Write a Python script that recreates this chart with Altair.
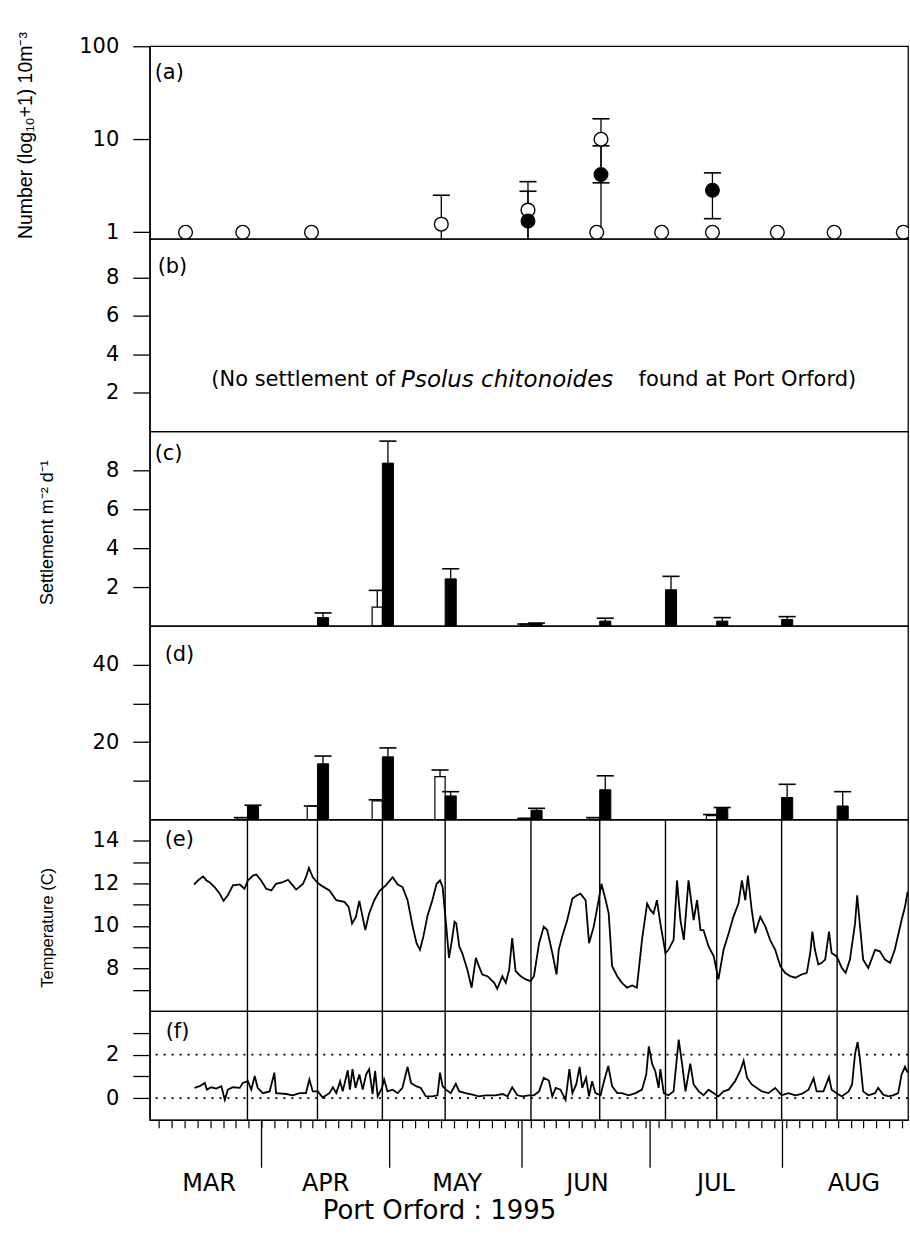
import altair as alt
import pandas as pd

# ---------------- data (day of year, 1995) ----------------
sample_day = [87.7, 104.1, 119.3, 134.0, 154.1, 170.2, 185.6, 197.6, 212.8, 225.8]
month_start_day = [91, 121, 152, 182, 213]
month_label_day = [78.6, 105.9, 136.7, 167.2, 197.3, 229.6]
month_names = ["MAR", "APR", "MAY", "JUN", "JUL", "AUG"]
minor_tick_day = list(range(67, 243, 3))

# (a) larval abundance
a_open_day = [73.2, 86.6, 102.7, 133.1, 153.4, 169.5, 170.5, 184.7, 196.6, 211.8, 225.1, 241.3]
a_open_val = [1.0, 1.0, 1.0, 1.22, 1.73, 1.0, 10.0, 1.0, 1.0, 1.0, 1.0, 1.0]
a_fill_day = [153.4, 170.5, 196.6]
a_fill_val = [1.32, 4.17, 2.83]
a_err_day = [133.1, 153.4, 170.5, 153.4, 170.5, 196.6]
a_err_lo = [0.85, 0.85, 3.4, 0.85, 0.85, 1.4]
a_err_hi = [2.5, 3.5, 16.6, 2.76, 8.5, 4.35]

# (b) note
b_note = ["(No settlement of", "Psolus chitonoides", "found at Port Orford)"]

# (c) settlement
c_day = [104.1, 119.3, 134.0, 154.1, 170.2, 185.6, 197.6, 212.8]
c_filled = [0.43, 8.37, 2.42, 0.12, 0.25, 1.86, 0.25, 0.33]
c_filled_err = [0.24, 1.13, 0.52, 0.03, 0.15, 0.69, 0.18, 0.15]
c_open = [0.0, 0.97, 0.0, 0.1, 0.0, 0.0, 0.0, 0.0]
c_open_err = [0.0, 0.86, 0.0, 0.0, 0.0, 0.0, 0.0, 0.0]

# (d) settlement
d_day = [87.7, 104.1, 119.3, 134.0, 154.1, 170.2, 197.6, 212.8, 225.8]
d_filled = [3.5, 14.4, 16.2, 6.1, 2.4, 7.7, 2.9, 5.7, 3.5]
d_filled_err = [0.2, 2.0, 2.3, 1.1, 0.5, 3.6, 0.2, 3.4, 3.7]
d_open = [0.5, 3.5, 4.8, 11.1, 0.3, 0.5, 1.0, 0.0, 0.0]
d_open_err = [0.0, 0.0, 0.3, 1.7, 0.0, 0.0, 0.3, 0.0, 0.0]

# (e) temperature
e_day = [75.2, 76.1, 77.3, 78.1, 78.8, 80.0, 81.2, 82.1, 83.1, 84.3, 85.9, 87.0, 87.8, 89.0,
         89.8, 90.9, 92.1, 93.3, 94.4, 96.0, 97.2, 98.3, 99.1, 100.7, 101.4, 102.1, 103.0,
         104.2, 105.3, 106.9, 108.5, 110.4, 111.4, 112.2, 113.1, 113.9, 114.5, 115.3, 116.2,
         117.4, 118.6, 120.1, 121.7, 122.9, 124.0, 125.2, 126.4, 127.3, 128.1, 128.9, 129.9,
         131.0, 132.0, 132.8, 133.4, 134.2, 134.9, 135.6, 136.2, 136.6, 137.3, 138.0, 139.2,
         140.2, 141.2, 141.9, 142.7, 143.9,
         145.5, 146.2, 147.4, 148.2, 149.0, 149.7, 150.5, 151.7, 152.9, 154.0, 154.8, 156.0,
         157.1, 157.9, 159.1, 160.1, 160.6, 161.4, 162.6, 163.8, 164.9, 165.7, 166.9, 167.7,
         168.8, 169.8, 170.6, 171.6, 172.3, 173.1, 174.3, 175.4, 176.6, 177.8, 178.9, 180.1,
         181.3, 182.1, 182.8, 183.6, 184.4, 185.6, 186.3, 187.5, 188.3, 189.1, 189.9, 191.0,
         192.2, 193.0, 193.8, 194.5, 195.7, 196.9, 198.0, 199.2, 200.4, 201.5, 202.7, 203.5,
         204.3, 204.9, 205.8, 206.6, 207.8, 209.0, 210.1, 211.3, 212.5, 213.6, 214.8, 216.0,
         217.5, 218.7, 219.5, 220.0, 220.6, 221.4, 222.2, 223.0, 223.9, 224.5, 225.7, 226.9,
         227.8, 228.8, 230.0, 230.5, 231.1, 231.9, 233.1, 234.7, 235.8, 237.0, 238.2, 239.3,
         240.9, 241.7, 242.3]
e_temp = [11.94, 12.14, 12.33, 12.14, 12.06, 11.83, 11.52, 11.18, 11.44, 11.91, 11.95, 11.75,
          12.14, 12.37, 12.42, 12.14, 11.75, 11.67, 11.98, 12.06, 12.17, 11.91, 11.71, 11.98,
          12.29, 12.73, 12.29, 12.02, 11.86, 11.67, 11.21, 11.13, 10.90, 10.12, 10.43, 11.18,
          10.59, 9.81, 10.59, 11.21, 11.64, 11.91, 12.29, 11.95, 11.83, 11.21, 9.97, 9.19,
          8.88, 9.50, 10.51, 11.21, 11.98, 12.14, 11.83, 10.12, 8.50, 9.35, 10.20, 10.12,
          9.04, 8.73, 7.95, 7.10, 8.50, 8.11, 7.72, 7.64,
          7.33, 7.05, 7.64, 7.33, 7.95, 9.43, 7.88, 7.64, 7.49, 7.41, 7.64, 9.19, 9.97, 9.81,
          8.73, 7.72, 8.88, 9.50, 10.28, 11.29, 11.44, 11.52, 11.21, 9.19, 9.97, 11.05, 11.98,
          11.21, 10.59, 8.11, 7.64, 7.33, 7.10, 7.21, 7.10, 9.35, 11.05, 10.74, 10.59, 11.21,
          10.12, 8.73, 8.88, 9.35, 12.14, 10.28, 9.35, 12.14, 10.28, 11.21, 9.81, 9.81, 9.04,
          8.57, 7.49, 8.88, 9.66, 10.43, 11.05, 12.14, 11.21, 12.37, 10.74, 9.66, 10.43, 9.97,
          9.35, 8.88, 8.11, 7.80, 7.64, 7.57, 7.72, 7.80, 8.73, 9.74, 8.88, 8.19, 8.27, 8.42,
          9.74, 8.73, 8.57, 8.03, 7.80, 8.42, 10.12, 11.44, 10.12, 8.42, 8.03, 8.88, 8.81,
          8.42, 8.27, 8.88, 10.28, 10.90, 11.60]

# (f) temperature difference
f_day = [75.3, 76.5, 77.7, 78.2, 79.2, 80.4, 81.6, 82.4, 83.1, 84.3, 85.9, 86.6, 87.8, 88.6,
         89.4, 90.1, 91.3, 92.9, 94.0, 94.4, 96.8, 98.3, 99.9, 101.4, 102.2, 103.0, 104.2,
         105.3, 106.9, 107.7, 108.5, 109.4, 110.0, 111.2, 111.7, 112.3, 113.0, 113.9, 114.7,
         115.5, 116.2, 117.0, 117.6, 118.2, 119.2, 119.7, 120.5, 121.7, 122.9, 124.0, 125.2,
         126.0, 127.2, 128.3, 129.5, 131.0, 132.2, 132.8, 133.4, 134.2, 135.3, 136.5, 137.3,
         138.8, 140.4, 141.9, 143.5,
         145.8, 147.4, 148.6, 149.7, 150.9, 152.1, 153.6, 154.8, 156.0, 157.1, 158.3, 159.1,
         159.9, 161.0, 162.2, 163.1, 163.8, 164.7, 165.5, 166.1, 167.0, 167.7, 168.4, 169.2,
         170.4, 171.2, 172.2, 173.1, 174.3, 175.4, 177.0, 178.6, 180.1, 181.1, 181.7, 182.5,
         183.2, 184.0, 184.4, 185.2, 186.3, 187.5, 188.7, 189.5, 190.3, 191.4, 192.2, 193.4,
         194.5, 195.7, 196.9, 198.0, 199.2, 200.4, 201.9, 203.1, 203.9, 204.7, 205.8, 207.0,
         208.2, 209.7, 211.3, 212.8, 214.4, 216.0, 217.5, 219.1, 220.3, 221.0, 222.6, 223.9,
         224.5, 225.7, 226.9, 228.5, 229.3, 230.0, 230.6, 231.1, 231.9, 233.1, 234.7, 235.4,
         236.6, 237.8, 238.9, 240.1, 240.9, 241.7, 242.3]
f_diff = [0.47, 0.55, 0.70, 0.39, 0.50, 0.44, 0.55, -0.08, 0.39, 0.50, 0.47, 0.70, 0.78, 0.39,
          1.02, 0.47, 0.23, 0.31, 1.17, 0.23, 0.19, 0.13, 0.23, 0.23, 0.86, 0.31, 0.31, 0.03,
          0.23, 0.50, 0.23, 0.78, 0.31, 1.28, 0.39, 1.33, 0.47, 1.09, 0.39, 1.09, 1.33, 0.19,
          1.25, 0.08, 0.47, 0.86, 0.31, 0.39, 0.23, 0.47, 1.44, 0.70, 0.55, 0.47, 0.08, 0.08,
          0.13, 1.17, 0.55, 0.39, 0.23, 0.66, 0.31, 0.23, 0.16, 0.08, 0.13,
          0.13, 0.19, 0.08, 0.50, 0.13, 0.08, 0.13, 0.13, 0.31, 0.94, 0.81, 0.08, 0.47, 0.39,
          -0.08, 1.33, 0.23, 0.63, 1.44, 0.47, 0.94, 0.08, 0.78, 0.23, 0.13, 0.78, 1.48, 0.55,
          0.23, 0.23, 0.13, 0.23, 0.39, 1.09, 2.38, 1.56, 1.25, 0.47, 1.33, 0.23, 0.13, 0.31,
          2.69, 1.56, 0.31, 1.59, 0.63, 0.31, 0.13, 0.39, 0.23, 0.08, 0.31, 0.39, 0.78, 1.25,
          1.72, 0.94, 0.63, 0.47, 0.31, 0.23, 0.47, 0.13, 0.23, 0.13, 0.19, 0.39, 0.91, 0.31,
          0.31, 0.97, 0.39, 0.23, 0.08, 0.31, 0.63, 2.03, 2.58, 1.88, 0.31, 0.13, 0.23, 0.47,
          0.16, 0.08, 0.13, 0.23, 1.09, 1.44, 1.17]
f_ref = [0, 2]

# ---------------- styling helpers ----------------
FONT = "DejaVu Sans"
TFONT = "Liberation Sans"
W = 760
XS = dict(domain=[64.8, 242.4], nice=False, zero=False)


def X(field, axis=None):
    return alt.X(field, type="quantitative", scale=alt.Scale(**XS), axis=axis)


def yaxis(values, title=None, title_x=0, title_y=0, title_size=16, label_expr=None, fmt=None):
    kw = dict(values=values, tickSize=17, tickWidth=1.3, tickColor="black",
              domainColor="black", domainWidth=1.3, labelFont=FONT, labelFontSize=21,
              labelColor="black", labelPadding=14, labelOverlap=False, grid=False)
    if label_expr is not None:
        kw["labelExpr"] = label_expr
    if fmt is not None:
        kw["format"] = fmt
    if title is not None:
        kw.update(title=title, titleFont=TFONT, titleFontSize=title_size,
                  titleFontWeight="normal", titleColor="black", titleX=title_x,
                  titleY=title_y, titleAngle=270, titleAlign="center",
                  titleBaseline="middle")
    else:
        kw["title"] = None
    return alt.Axis(**kw)


def make_y(scale, axis):
    def f(field):
        return alt.Y(field, type="quantitative", scale=scale, axis=axis)
    return f


def plabel(txt, x, y):
    return alt.Chart(pd.DataFrame({"t": [txt]})).mark_text(
        align="left", baseline="middle", font=FONT, fontSize=21, color="black"
    ).encode(x=alt.value(x), y=alt.value(y), text="t:N")


def bar_layers(df, Y):
    base = alt.Chart(df)
    open_bar = base.transform_filter("datum.open > 0").transform_calculate(
        bx1="datum.day - 2.4", bx2="datum.day", zero="0"
    ).mark_bar(fill="white", stroke="black", strokeWidth=1.2).encode(
        x=X("bx1"), x2=alt.X2("bx2"), y=Y("open"), y2=alt.Y2("zero:Q"))
    fill_bar = base.transform_filter("datum.filled > 0").transform_calculate(
        bx1="datum.day", bx2="datum.day + 2.6", zero="0"
    ).mark_bar(fill="black", stroke="black", strokeWidth=1).encode(
        x=X("bx1"), x2=alt.X2("bx2"), y=Y("filled"), y2=alt.Y2("zero:Q"))
    open_wh = base.transform_filter("datum.open > 0 && datum.open_err > 0").transform_calculate(
        cx="datum.day - 1.2", top="datum.open + datum.open_err"
    ).mark_rule(color="black", strokeWidth=1.3).encode(
        x=X("cx"), y=Y("open"), y2=alt.Y2("top:Q"))
    fill_wh = base.transform_filter("datum.filled > 0 && datum.filled_err > 0").transform_calculate(
        cx="datum.day + 1.3", top="datum.filled + datum.filled_err"
    ).mark_rule(color="black", strokeWidth=1.3).encode(
        x=X("cx"), y=Y("filled"), y2=alt.Y2("top:Q"))
    open_cap = base.transform_filter("datum.open > 0").transform_calculate(
        c1="datum.day - 3.2", c2="datum.day + 0.8", top="datum.open + datum.open_err"
    ).mark_rule(color="black", strokeWidth=1.6).encode(
        x=X("c1"), x2=alt.X2("c2"), y=Y("top:Q"))
    fill_cap = base.transform_filter("datum.filled > 0").transform_calculate(
        c1="datum.day - 0.7", c2="datum.day + 3.3", top="datum.filled + datum.filled_err"
    ).mark_rule(color="black", strokeWidth=1.6).encode(
        x=X("c1"), x2=alt.X2("c2"), y=Y("top:Q"))
    return [open_bar, fill_bar, open_wh, fill_wh, open_cap, fill_cap]


# ---------------- panel (a) ----------------
YA = make_y(alt.Scale(type="log", domain=[0.85, 100], nice=False),
            yaxis([1, 10, 100], title="Number (log\u2081\u2080+1) 10m\u207b\u00b3",
                  title_x=-124, title_y=89, title_size=19.5, fmt="d"))
a_open = pd.DataFrame({"day": a_open_day, "val": a_open_val})
a_fill = pd.DataFrame({"day": a_fill_day, "val": a_fill_val})
a_err = pd.DataFrame({"day": a_err_day, "lo": a_err_lo, "hi": a_err_hi})

a_wh = alt.Chart(a_err).mark_rule(color="black", strokeWidth=1.3).encode(
    x=X("day"), y=YA("lo"), y2=alt.Y2("hi"))
a_caphi = alt.Chart(a_err).transform_calculate(
    c1="datum.day - 2", c2="datum.day + 2").mark_rule(color="black", strokeWidth=1.6).encode(
    x=X("c1:Q"), x2=alt.X2("c2:Q"), y=YA("hi"))
a_caplo = alt.Chart(a_err).transform_filter("datum.lo > 0.9").transform_calculate(
    c1="datum.day - 2", c2="datum.day + 2").mark_rule(color="black", strokeWidth=1.6).encode(
    x=X("c1:Q"), x2=alt.X2("c2:Q"), y=YA("lo"))
a_pts_open = alt.Chart(a_open).mark_circle(size=190, fill="white", stroke="black",
                                           strokeWidth=1.4, opacity=1, clip=True).encode(
    x=X("day"), y=YA("val"))
a_pts_fill = alt.Chart(a_fill).mark_circle(size=190, fill="black", stroke="black",
                                           strokeWidth=1.2, opacity=1, clip=True).encode(
    x=X("day"), y=YA("val"))
panel_a = alt.layer(a_wh, a_caphi, a_caplo, a_pts_open, a_pts_fill,
                    plabel("(a)", 5, 27)).properties(width=W, height=193)

# ---------------- panel (b) ----------------
YB = make_y(alt.Scale(domain=[0, 10], nice=False), yaxis([2, 4, 6, 8]))
b_anchor = alt.Chart(pd.DataFrame({"v": [0]})).mark_point(opacity=0).encode(y=YB("v"))


def btext(txt, align, x, italic=False, size=21):
    kw = dict(align=align, baseline="middle", font=FONT, fontSize=size, color="black")
    if italic:
        kw["fontStyle"] = "italic"
    return alt.Chart(pd.DataFrame({"t": [txt]})).mark_text(**kw).encode(
        x=alt.value(x), y=alt.value(141), text="t:N")


panel_b = alt.layer(b_anchor, btext(b_note[0], "right", 246),
                    btext(b_note[1], "left", 252, True, 23),
                    btext(b_note[2], "left", 490),
                    plabel("(b)", 8, 28)).properties(width=W, height=193)

# ---------------- panel (c) ----------------
YC = make_y(alt.Scale(domain=[0, 10], nice=False),
            yaxis([2, 4, 6, 8], title="Settlement m\u207b\u00b2 d\u207b\u00b9",
                  title_x=-102, title_y=101, title_size=18))
c_df = pd.DataFrame({"day": c_day, "filled": c_filled, "filled_err": c_filled_err,
                     "open": c_open, "open_err": c_open_err})
panel_c = alt.layer(*bar_layers(c_df, YC), plabel("(c)", 5, 23)).properties(width=W, height=195)

# ---------------- panel (d) ----------------
YD = make_y(alt.Scale(domain=[0, 50], nice=False),
            yaxis([10, 20, 30, 40], label_expr="datum.value % 20 == 0 ? datum.label : ''"))
d_df = pd.DataFrame({"day": d_day, "filled": d_filled, "filled_err": d_filled_err,
                     "open": d_open, "open_err": d_open_err})
panel_d = alt.layer(*bar_layers(d_df, YD), plabel("(d)", 15, 29)).properties(width=W, height=194)

# ---------------- panel (e) ----------------
YE = make_y(alt.Scale(domain=[6, 15], nice=False),
            yaxis([7, 8, 9, 10, 11, 12, 13, 14], title="Temperature (C)", title_x=-102,
                  title_y=108, title_size=16.5,
                  label_expr="datum.value % 2 == 0 ? datum.label : ''"))
samples = pd.DataFrame({"day": sample_day})
e_df = pd.DataFrame({"day": e_day, "temp": e_temp})
e_rules = alt.Chart(samples).mark_rule(color="black", strokeWidth=1.4).encode(x=X("day"))
e_line = alt.Chart(e_df).mark_line(color="black", strokeWidth=1.8, clip=True).encode(
    x=X("day"), y=YE("temp"))
panel_e = alt.layer(e_rules, e_line, plabel("(e)", 15, 21)).properties(width=W, height=192)

# ---------------- panel (f) ----------------
YF = make_y(alt.Scale(domain=[-1, 4], nice=False),
            yaxis([0, 1, 2, 3], label_expr="datum.value % 2 == 0 ? datum.label : ''"))
fx_axis = alt.Axis(values=minor_tick_day, labels=False, title=None, tickSize=8, tickWidth=1.2,
                   tickColor="black", domainColor="black", domainWidth=1.3, grid=False)
f_df = pd.DataFrame({"day": f_day, "diff": f_diff})
f_refs = alt.Chart(pd.DataFrame({"ref": f_ref})).mark_rule(
    color="black", strokeWidth=1.6, strokeDash=[2, 6]).encode(y=YF("ref"))
f_rules = alt.Chart(samples).mark_rule(color="black", strokeWidth=1.4).encode(
    x=X("day", fx_axis))
f_line = alt.Chart(f_df).mark_line(color="black", strokeWidth=1.8, clip=True).encode(
    x=X("day", fx_axis), y=YF("diff"))
panel_f = alt.layer(f_refs, f_rules, f_line, plabel("(f)", 16, 21)).properties(
    width=W, height=109)

# ---------------- month label strip ----------------
label_expr = "[{}][indexof([{}], datum.value)]".format(
    ",".join("'%s'" % m for m in month_names), ",".join(str(v) for v in month_label_day))
g_axis = alt.Axis(values=month_label_day, labelExpr=label_expr, ticks=False, domain=False,
                  grid=False, labelFont=FONT, labelFontSize=24, labelColor="black",
                  labelPadding=4, labelFlush=False, labelOverlap=False,
                  title="Port Orford : 1995", titleFont=FONT, titleFontSize=26,
                  titleFontWeight="normal", titleColor="black", titleX=290, titleY=43,
                  titleAlign="center", titleBaseline="middle")
panel_g = alt.Chart(pd.DataFrame({"day": month_start_day})).mark_rule(
    color="black", strokeWidth=1.3).encode(x=X("day", g_axis)).properties(
    width=W, height=48, view=alt.ViewBackground(stroke="transparent"))

chart = alt.vconcat(panel_a, panel_b, panel_c, panel_d, panel_e, panel_f, panel_g,
                    spacing=0, bounds="flush").resolve_scale(
    x="independent", y="independent").properties(
    padding={"left": 15, "top": 29, "right": 0, "bottom": 2},
    background="white").configure_view(stroke="black", strokeWidth=1.3)

chart.save("out.html", embed_options={"renderer": "svg", "actions": False})
